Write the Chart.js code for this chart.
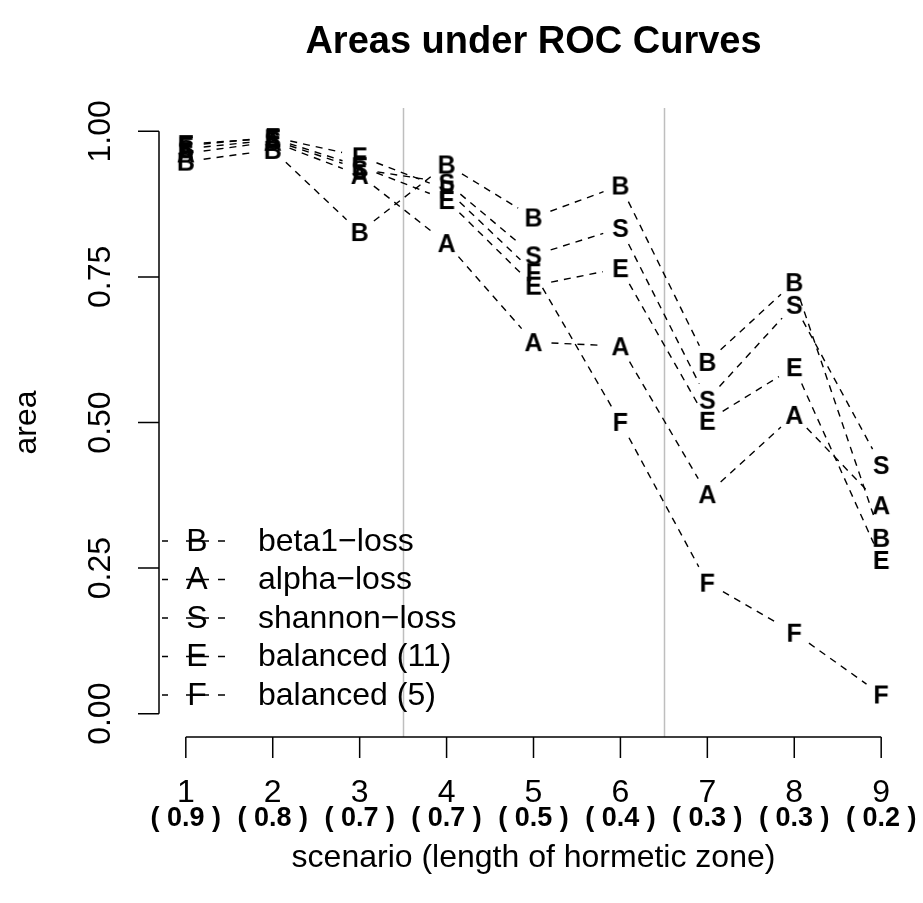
<!DOCTYPE html>
<html>
<head>
<meta charset="utf-8">
<script src="https://cdn.jsdelivr.net/npm/chart.js@4.4.1/dist/chart.umd.min.js"></script>
<style>
  html, body { margin: 0; padding: 0; background: #ffffff; }
  #wrap { width: 923px; height: 903px; }
</style>
</head>
<body>
<div id="wrap"><canvas id="roc" width="923" height="903"></canvas></div>
<script>
// Scenarios on the x axis and the length of the hormetic zone for each
const scenarios = [1, 2, 3, 4, 5, 6, 7, 8, 9];
const zoneLengths = ['0.9', '0.8', '0.7', '0.7', '0.5', '0.4', '0.3', '0.3', '0.2'];

// Area under the ROC curve per method and scenario
const beta1Loss   = [0.948, 0.968, 0.827, 0.943, 0.852, 0.907, 0.604, 0.741, 0.302];
const alphaLoss   = [0.962, 0.982, 0.925, 0.808, 0.638, 0.631, 0.377, 0.513, 0.358];
const shannonLoss = [0.970, 0.985, 0.935, 0.912, 0.787, 0.834, 0.539, 0.702, 0.427];
const balanced11  = [0.978, 0.988, 0.940, 0.882, 0.735, 0.765, 0.503, 0.595, 0.264];
const balanced5   = [0.975, 0.990, 0.957, 0.900, 0.758, 0.501, 0.225, 0.139, 0.033];

const seriesNames   = ['beta1\u2212loss', 'alpha\u2212loss', 'shannon\u2212loss', 'balanced (11)', 'balanced (5)'];
const seriesLetters = ['B', 'A', 'S', 'E', 'F'];
const seriesValues  = [beta1Loss, alphaLoss, shannonLoss, balanced11, balanced5];

const yTicks = [0, 0.25, 0.5, 0.75, 1];
const yTickLabels = ['0.00', '0.25', '0.50', '0.75', '1.00'];
const zoneBreaks = [3.5, 6.5];

const FONT = '"Liberation Sans", Arial, Helvetica, sans-serif';
const LETTER_PX = 25;

// Letter glyphs used as point markers
function letterMarker(ch) {
  const c = document.createElement('canvas');
  c.width = 40; c.height = 40;
  const g = c.getContext('2d');
  g.fillStyle = '#000';
  g.font = 'bold ' + LETTER_PX + 'px ' + FONT;
  g.textAlign = 'center';
  g.textBaseline = 'alphabetic';
  g.fillText(ch, 20, 20 + LETTER_PX * 0.716 / 2);
  return c;
}

const datasets = seriesValues.map((vals, i) => ({
  label: seriesNames[i],
  data: scenarios.map((s, j) => ({ x: s, y: vals[j] })),
  showLine: false,
  pointStyle: letterMarker(seriesLetters[i]),
  pointRadius: 10,
  pointHoverRadius: 10
}));

// Dashed connectors with a gap around each letter, plus the zone separators
const connectorPlugin = {
  id: 'connectors',
  beforeDatasetsDraw(chart) {
    const { ctx, chartArea, scales } = chart;
    ctx.save();
    ctx.strokeStyle = '#bebebe';
    ctx.lineWidth = 1.5;
    zoneBreaks.forEach(b => {
      const x = Math.round(scales.x.getPixelForValue(b)) + 0.5;
      ctx.beginPath();
      ctx.moveTo(x, chartArea.top);
      ctx.lineTo(x, chartArea.bottom);
      ctx.stroke();
    });
    ctx.strokeStyle = '#000';
    ctx.lineWidth = 1.4;
    ctx.setLineDash([7, 6]);
    const gap = 18;
    chart.data.datasets.forEach((ds, i) => {
      const pts = chart.getDatasetMeta(i).data;
      for (let k = 0; k + 1 < pts.length; k++) {
        const a = pts[k], b = pts[k + 1];
        const dx = b.x - a.x, dy = b.y - a.y;
        const len = Math.hypot(dx, dy);
        if (len <= 2 * gap) continue;
        const ux = dx / len, uy = dy / len;
        ctx.beginPath();
        ctx.moveTo(a.x + ux * gap, a.y + uy * gap);
        ctx.lineTo(b.x - ux * gap, b.y - uy * gap);
        ctx.stroke();
      }
    });
    ctx.restore();
  }
};

// Axes, titles and legend drawn in the base-graphics style
const framePlugin = {
  id: 'frame',
  afterDraw(chart) {
    const { ctx, chartArea, scales } = chart;
    const xs = scales.x, ys = scales.y;
    ctx.save();
    ctx.fillStyle = '#000';
    ctx.strokeStyle = '#000';
    ctx.lineWidth = 1.5;
    ctx.setLineDash([]);

    // y axis
    const ax = chartArea.left + 1;
    ctx.beginPath();
    ctx.moveTo(ax, ys.getPixelForValue(0));
    ctx.lineTo(ax, ys.getPixelForValue(1));
    yTicks.forEach(t => {
      const y = ys.getPixelForValue(t);
      ctx.moveTo(ax, y);
      ctx.lineTo(ax - 21, y);
    });
    ctx.stroke();
    ctx.font = '32px ' + FONT;
    ctx.textAlign = 'center';
    ctx.textBaseline = 'middle';
    yTicks.forEach((t, i) => {
      ctx.save();
      ctx.translate(101, ys.getPixelForValue(t));
      ctx.rotate(-Math.PI / 2);
      ctx.fillText(yTickLabels[i], 0, 0);
      ctx.restore();
    });
    ctx.save();
    ctx.translate(27, (ys.getPixelForValue(0) + ys.getPixelForValue(1)) / 2);
    ctx.rotate(-Math.PI / 2);
    ctx.fillText('area', 0, 0);
    ctx.restore();

    // x axis
    const ay = chartArea.bottom;
    ctx.beginPath();
    ctx.moveTo(xs.getPixelForValue(scenarios[0]), ay);
    ctx.lineTo(xs.getPixelForValue(scenarios[scenarios.length - 1]), ay);
    scenarios.forEach(s => {
      const x = xs.getPixelForValue(s);
      ctx.moveTo(x, ay);
      ctx.lineTo(x, ay + 21);
    });
    ctx.stroke();
    scenarios.forEach((s, i) => {
      const x = xs.getPixelForValue(s);
      ctx.font = '32px ' + FONT;
      ctx.fillText(String(s), x, 793);
      ctx.font = 'bold 27px ' + FONT;
      ctx.fillText('( ' + zoneLengths[i] + ' )', x, 819);
    });
    ctx.font = '32px ' + FONT;
    ctx.fillText('scenario (length of hormetic zone)', (chartArea.left + chartArea.right) / 2, 858);

    // title
    ctx.font = 'bold 38px ' + FONT;
    ctx.fillText('Areas under ROC Curves', (chartArea.left + chartArea.right) / 2, 43);

    // legend
    const rowY0 = 541, rowStep = 38.5;
    seriesNames.forEach((name, i) => {
      const y = rowY0 + i * rowStep;
      ctx.lineWidth = 1.4;
      ctx.setLineDash([6, 18, 23, 9, 7]);
      ctx.beginPath();
      ctx.moveTo(162, y);
      ctx.lineTo(225, y);
      ctx.stroke();
      ctx.setLineDash([]);
      ctx.font = '32px ' + FONT;
      ctx.textAlign = 'center';
      ctx.fillText(seriesLetters[i], 197, y + 1);
      ctx.textAlign = 'left';
      ctx.fillText(name, 258, y + 1);
    });
    ctx.restore();
  }
};

new Chart(document.getElementById('roc'), {
  type: 'line',
  data: { datasets },
  options: {
    responsive: false,
    devicePixelRatio: 1,
    animation: false,
    layout: { padding: { left: 158, right: 14, top: 108, bottom: 166 } },
    plugins: { legend: { display: false }, tooltip: { enabled: false }, title: { display: false } },
    scales: {
      x: { type: 'linear', min: 0.68, max: 9.32, display: false },
      y: { type: 'linear', min: -0.04, max: 1.04, display: false }
    }
  },
  plugins: [connectorPlugin, framePlugin]
});
</script>
</body>
</html>
